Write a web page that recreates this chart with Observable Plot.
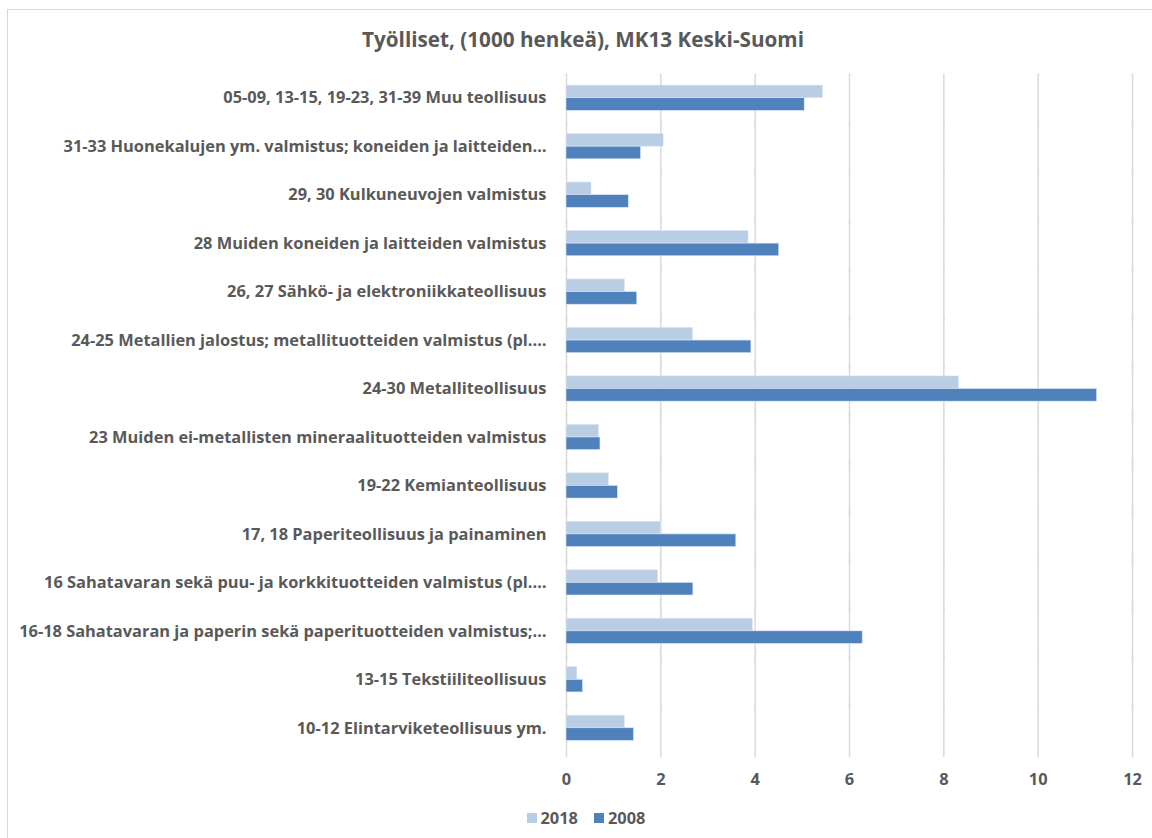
<!DOCTYPE html>
<html>
<head>
<meta charset="utf-8">
<script src="https://cdn.jsdelivr.net/npm/d3@7"></script>
<script src="https://cdn.jsdelivr.net/npm/@observablehq/plot@0.6"></script>
<style>
  html, body { margin: 0; padding: 0; background: #fff; }
  #wrap { position: relative; width: 1152px; height: 838px; overflow: hidden; font-family: "Open Sans", Lato, sans-serif; color: #595959; }
  #frame { position: absolute; left: 7px; top: 9px; width: 1300px; height: 1000px; border: 1.5px solid #d9d9d9; box-sizing: border-box; }
  #title { position: absolute; left: 0; top: 24px; width: 1166px; text-align: center; font-weight: bold; font-size: 20.7px; line-height: 30px; }
  #chart { position: absolute; left: 0; top: 60px; }
  #legend { position: absolute; left: 0; top: 807px; width: 1172px; display: flex; justify-content: center; align-items: center; font-weight: bold; font-size: 16.4px; line-height: 22px; }
  .sw { display: inline-block; width: 10px; height: 10px; margin-right: 4px; }
  .item { display: flex; align-items: center; margin: 0 8px; }
</style>
</head>
<body>
<div id="wrap">
  <div id="frame"></div>
  <div id="title">Työlliset, (1000 henkeä), MK13 Keski-Suomi</div>
  <div id="chart"></div>
  <div id="legend"></div>
</div>
<script>
const categories = [
  "05-09, 13-15, 19-23, 31-39 Muu teollisuus",
  "31-33 Huonekalujen ym. valmistus; koneiden ja laitteiden…",
  "29, 30 Kulkuneuvojen valmistus",
  "28 Muiden koneiden ja laitteiden valmistus",
  "26, 27 Sähkö- ja elektroniikkateollisuus",
  "24-25 Metallien jalostus; metallituotteiden valmistus (pl.…",
  "24-30 Metalliteollisuus",
  "23 Muiden ei-metallisten mineraalituotteiden valmistus",
  "19-22 Kemianteollisuus",
  "17, 18 Paperiteollisuus ja painaminen",
  "16 Sahatavaran sekä puu- ja korkkituotteiden valmistus (pl.…",
  "16-18 Sahatavaran ja paperin sekä paperituotteiden valmistus;…",
  "13-15 Tekstiiliteollisuus",
  "10-12 Elintarviketeollisuus ym."
];
const values2018 = [5.44, 2.06, 0.53, 3.86, 1.24, 2.68, 8.32, 0.69, 0.90, 2.00, 1.94, 3.95, 0.23, 1.24];
const values2008 = [5.05, 1.58, 1.32, 4.51, 1.50, 3.92, 11.25, 0.72, 1.09, 3.60, 2.69, 6.28, 0.35, 1.43];
const seriesNames = ["2018", "2008"];
const seriesColors = ["#b9cde5", "#4f81bd"];
const xTicks = [0, 2, 4, 6, 8, 10, 12];

const rows = [];
categories.forEach((c, i) => {
  rows.push({category: c, series: "2018", value: values2018[i]});
  rows.push({category: c, series: "2008", value: values2008[i]});
});

const chart = Plot.plot({
  width: 1152,
  height: 735,
  marginTop: 13,
  marginBottom: 38,
  marginLeft: 566,
  marginRight: 20,
  style: {fontFamily: "'Open Sans', Lato, sans-serif", fontSize: "16.4px", fontWeight: "bold", color: "#595959", background: "transparent", overflow: "visible"},
  facet: {data: rows, y: "category"},
  fy: {domain: categories, range: [13.5, 692], padding: 0, round: false, label: null, tickSize: 0, tickPadding: 20},
  y: {domain: seriesNames, paddingInner: 0, paddingOuter: 0.92, round: false, axis: null},
  x: {domain: [0, 12], ticks: xTicks, tickSize: 0, tickPadding: 21, label: null},
  color: {domain: seriesNames, range: seriesColors},
  marks: [
    Plot.ruleX(xTicks, {stroke: "#d9d9d9", strokeWidth: 1.5, insetBottom: -5}),
    Plot.barX(rows, {x: "value", y: "series", fill: "series", stroke: "#dce6f2", strokeWidth: 0.6})
  ]
});
document.getElementById("chart").appendChild(chart);

const legend = document.getElementById("legend");
seriesNames.forEach((s, i) => {
  const item = document.createElement("span");
  item.className = "item";
  const sw = document.createElement("span");
  sw.className = "sw";
  sw.style.background = seriesColors[i];
  item.appendChild(sw);
  item.appendChild(document.createTextNode(s));
  legend.appendChild(item);
});
</script>
</body>
</html>
